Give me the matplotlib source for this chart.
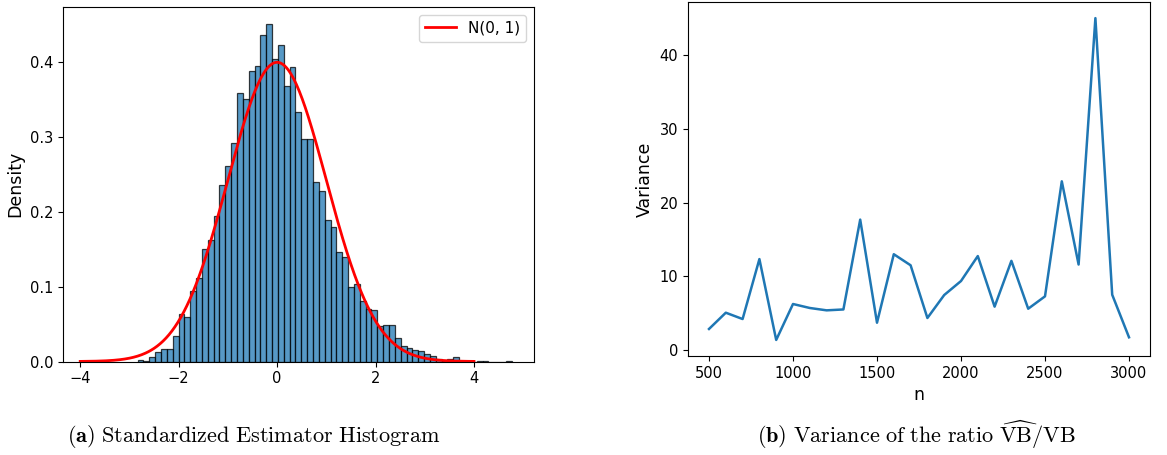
import numpy as np
import matplotlib
matplotlib.use("Agg")
import matplotlib.pyplot as plt

plt.rcParams['mathtext.fontset'] = 'cm'

# histogram of the standardized estimator (density per bin)
bin_start = -2.834
bin_width = 0.1188
density = [0.002, 0.001, 0.0062, 0.0124, 0.0165, 0.017, 0.034, 0.064, 0.060, 0.094,
           0.111, 0.150, 0.162, 0.194, 0.235, 0.261, 0.292, 0.358, 0.350, 0.387,
           0.394, 0.435, 0.450, 0.403, 0.422, 0.368, 0.393, 0.333, 0.297, 0.297,
           0.240, 0.228, 0.189, 0.180, 0.146, 0.139, 0.100, 0.103, 0.081, 0.070,
           0.069, 0.048, 0.049, 0.049, 0.032, 0.021, 0.018, 0.016, 0.014, 0.010,
           0.0075, 0.003, 0.0013, 0.003, 0.006, 0.0, 0.0, 0.0, 0.001, 0.001,
           0.0, 0.0, 0.0, 0.001]

# variance of the ratio vs n
n_vals = [500, 600, 700, 800, 900, 1000, 1100, 1200, 1300, 1400, 1500, 1600, 1700,
          1800, 1900, 2000, 2100, 2200, 2300, 2400, 2500, 2600, 2700, 2800, 2900, 3000]
variance = [2.85, 5.06, 4.2, 12.34, 1.36, 6.24, 5.7, 5.38, 5.5, 17.7, 3.7, 13.0, 11.5,
            4.34, 7.46, 9.36, 12.75, 5.88, 12.1, 5.6, 7.28, 22.9, 11.6, 45.06, 7.5, 1.72]

W, H = 1167, 455
fig = plt.figure(figsize=(W / 100, H / 100), dpi=100)

ax1 = fig.add_axes([63 / W, 1 - 361.5 / H, (534 - 63) / W, (361.5 - 7) / H])
edges = bin_start + bin_width * np.arange(len(density) + 1)
ax1.bar(edges[:-1], density, width=bin_width, align='edge', color='#1f77b4',
        alpha=0.75, edgecolor='black', linewidth=0.9)
xs = np.linspace(-4, 4, 400)
ax1.plot(xs, np.exp(-xs ** 2 / 2) / np.sqrt(2 * np.pi), color='red', lw=2, label='N(0, 1)')
ax1.set_xlim(-4.35, 5.22)
ax1.set_ylim(0, 0.4727)
ax1.set_xticks([-4, -2, 0, 2, 4])
ax1.set_yticks([0.0, 0.1, 0.2, 0.3, 0.4])
ax1.set_ylabel('Density', fontsize=12.5)
ax1.tick_params(labelsize=10.5)
ax1.legend(loc='upper right', fontsize=11)

ax2 = fig.add_axes([688 / W, 1 - 356 / H, (1150 - 688) / W, (356 - 2) / H])
ax2.plot(n_vals, variance, color='#1f77b4', lw=1.8)
ax2.set_xlim(375, 3125)
ax2.set_ylim(-0.82, 47.25)
ax2.set_xticks([500, 1000, 1500, 2000, 2500, 3000])
ax2.set_yticks([0, 10, 20, 30, 40])
ax2.set_xlabel('n', fontsize=12.5)
ax2.set_ylabel('Variance', fontsize=12.5)
ax2.tick_params(labelsize=10.5)

fig.text(254 / W, 1 - 437 / H,
         r'$\mathbf{(a)}\ \mathrm{Standardized\ Estimator\ Histogram}$',
         ha='center', va='center', fontsize=16)
fig.text(916 / W, 1 - 435 / H,
         r'$\mathbf{(b)}\ \mathrm{Variance\ of\ the\ ratio}\ \widehat{\mathrm{VB}}/\mathrm{VB}$',
         ha='center', va='center', fontsize=16)

fig.savefig('out.png', dpi=100)
